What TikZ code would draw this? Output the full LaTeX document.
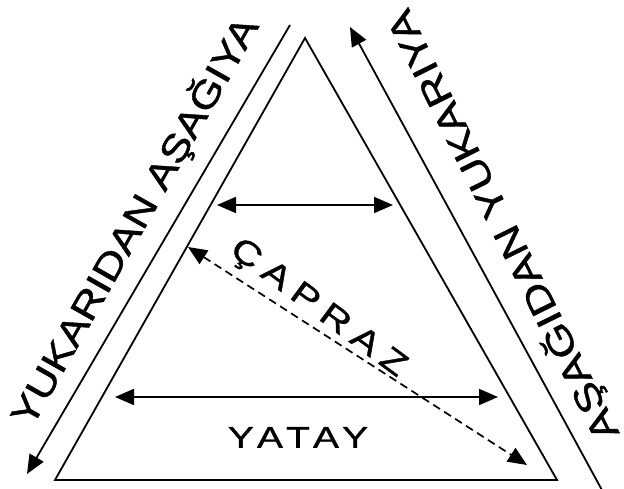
\documentclass[tikz,border=0pt]{standalone}
\usepackage{fontspec}
\setmainfont{Liberation Sans}
\newfontfamily\sidefont[FakeStretch=1.2,FakeBold=1.1]{Liberation Sans}
\newfontfamily\rsidefont[FakeStretch=1.25,FakeBold=1.1]{Liberation Sans}
\newfontfamily\yatayfont[FakeStretch=1.3,FakeBold=1.1,LetterSpace=20]{Liberation Sans}
\newfontfamily\caprazfont[FakeStretch=1.25,FakeBold=1.1,LetterSpace=26]{Liberation Sans}
\usetikzlibrary{arrows.meta}
\begin{document}
\begin{tikzpicture}[x=1pt,y=-1pt,line width=1.8pt,
  tipA/.tip={Triangle[length=19pt,width=16pt]},
  lsidelbl/.style={inner sep=0pt,text height=26.5pt,text depth=0pt,
    font=\sidefont\fontsize{37}{37}\selectfont},
  rsidelbl/.style={inner sep=0pt,text height=26.5pt,text depth=0pt,
    font=\rsidefont\fontsize{36.5}{36.5}\selectfont},
  yataylbl/.style={inner sep=0pt,text height=21.5pt,text depth=0pt,
    font=\yatayfont\fontsize{30}{30}\selectfont},
  caprazlbl/.style={inner sep=0pt,text height=23.6pt,text depth=0pt,
    font=\caprazfont\fontsize{33}{33}\selectfont},
  dasharrow/.style={dash pattern=on 8pt off 5pt,line width=1.7pt}]
\useasboundingbox (0,0) rectangle (624,489);
% triangle
\coordinate (tA) at (305,38);
\coordinate (tB) at (55,480);
\coordinate (tC) at (557,480);
\draw[line join=miter] (tA) -- (tB) -- (tC) -- cycle;
% side arrows
\coordinate (lTop) at (290,25);
\coordinate (lBot) at (27,474);
\draw[-tipA] (lTop) -- (lBot);
\coordinate (rTop) at (350,27);
\coordinate (rBot) at (603,492);
\draw[-tipA] (rBot) -- (rTop);
% horizontal arrows
\coordinate (h1L) at (217,205);
\coordinate (h1R) at (393,205);
\draw[tipA-tipA] (h1L) -- (h1R);
\coordinate (h2L) at (115,397);
\coordinate (h2R) at (498,397);
\draw[tipA-tipA] (h2L) -- (h2R);
% diagonal dashed arrow
\coordinate (dL) at (188,247);
\coordinate (dR) at (527,465);
\draw[dasharrow,tipA-tipA] (dL) -- (dR);
% labels
\node[lsidelbl,rotate=60.5] (ltext) at (134,221) {YUKARIDAN AŞAĞIYA};
\node[rsidelbl,rotate=116.4] (rtext) at (502,226) {AŞAĞIDAN YUKARIYA};
\node[caprazlbl,rotate=-36.4] (ctext) at (320,306) {ÇAPRAZ};
\node[yataylbl] (ytext) at (298,437) {YATAY};
\end{tikzpicture}
\end{document}
